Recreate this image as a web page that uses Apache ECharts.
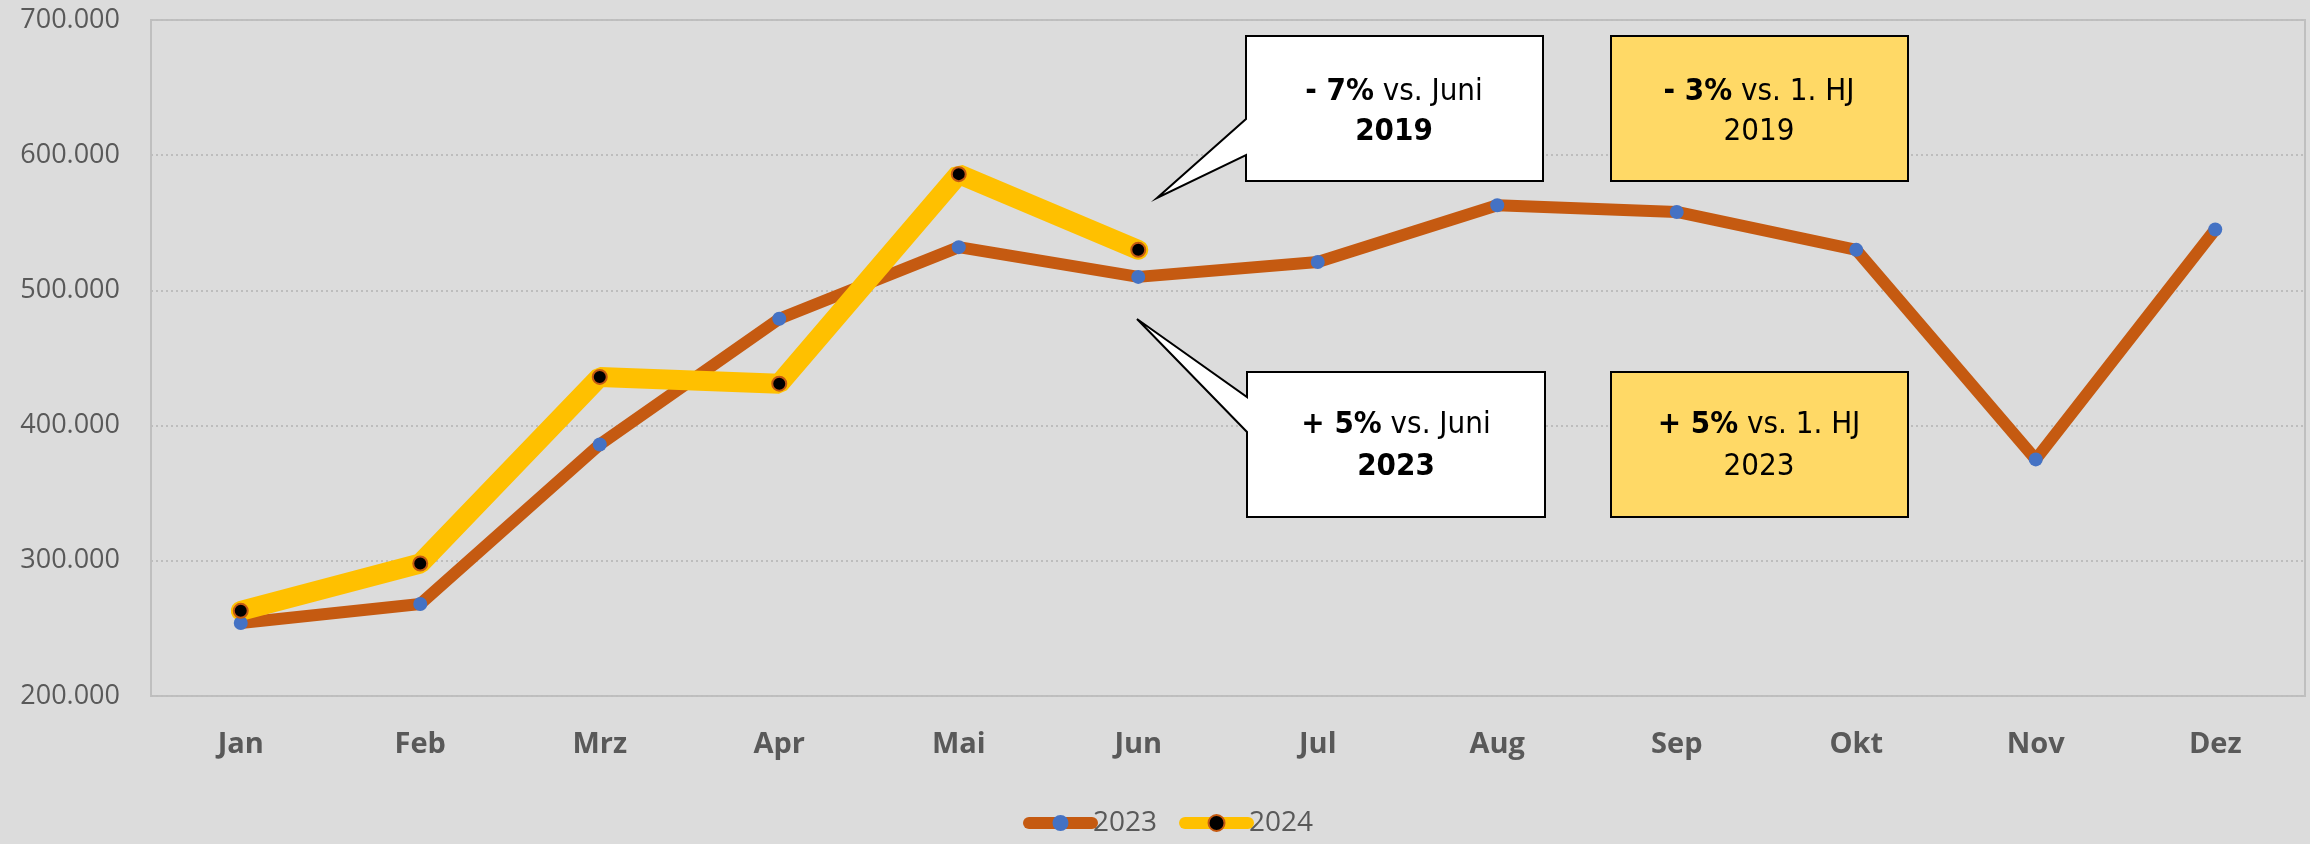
<!DOCTYPE html>
<html>
<head>
<meta charset="utf-8">
<script src="https://cdn.jsdelivr.net/npm/echarts@6/dist/echarts.min.js"></script>
<style>
  html, body { margin: 0; padding: 0; background: #dcdcdc; }
  #chart { width: 2310px; height: 844px; }
</style>
</head>
<body>
<div id="chart"></div>
<script>
// data
const months = ['Jan', 'Feb', 'Mrz', 'Apr', 'Mai', 'Jun', 'Jul', 'Aug', 'Sep', 'Okt', 'Nov', 'Dez'];
const values2023 = [254000, 268000, 386000, 479000, 532000, 510000, 521000, 563000, 558000, 530000, 375000, 545000];
const values2024 = [263000, 298000, 436000, 431000, 586000, 530000];
const yTicks = [200000, 300000, 400000, 500000, 600000, 700000];

const boxFont = '"DejaVu Sans Condensed", "Liberation Sans Narrow", "Open Sans", sans-serif';

const chart = echarts.init(document.getElementById('chart'));

function callout(points) {
  return {
    type: 'polygon',
    shape: { points: points },
    style: { fill: '#ffffff', stroke: '#000000', lineWidth: 2 },
    z: 100
  };
}

function box(x, y, w, h) {
  return {
    type: 'rect',
    shape: { x: x, y: y, width: w, height: h },
    style: { fill: '#ffd966', stroke: '#000000', lineWidth: 2 },
    z: 100
  };
}

function label(x, y, text, lh) {
  return {
    type: 'text',
    x: x,
    y: y,
    z: 101,
    style: {
      text: text,
      align: 'center',
      verticalAlign: 'middle',
      fill: '#000',
      font: '31px ' + boxFont,
      lineHeight: lh,
      rich: {
        n: { font: '31px ' + boxFont, fill: '#000', lineHeight: lh },
        b: { font: 'bold 31px ' + boxFont, fill: '#000', lineHeight: lh }
      }
    }
  };
}

const options = {
  backgroundColor: '#dcdcdc',
  animation: false,
  grid: {
    left: 151, right: 5, top: 20, bottom: 148,
    show: true, borderColor: '#bfbfbf', borderWidth: 2, backgroundColor: 'transparent'
  },
  legend: {
    bottom: 2,
    left: 1018,
    itemWidth: 63,
    itemHeight: 20,
    itemGap: 22,
    lineStyle: { width: 12, cap: 'round' },
    textStyle: { fontFamily: 'Open Sans', fontSize: 28, color: '#595959', padding: [0, 0, 0, -4] },
    data: ['2023', '2024']
  },
  xAxis: {
    type: 'category',
    data: months,
    boundaryGap: true,
    axisLine: { show: false },
    axisTick: { show: false },
    axisLabel: { margin: 34, fontFamily: 'Open Sans', fontWeight: 'bold', fontSize: 29, color: '#595959' }
  },
  yAxis: {
    type: 'value',
    min: yTicks[0],
    max: yTicks[yTicks.length - 1],
    interval: 100000,
    axisLine: { show: false },
    axisTick: { show: false },
    axisLabel: {
      margin: 31,
      fontFamily: 'Open Sans',
      fontSize: 27,
      color: '#595959',
      formatter: function (v) {
        return String(v).replace(/\B(?=(\d{3})+(?!\d))/g, '.');
      }
    },
    splitLine: { lineStyle: { color: '#bdbdbd', width: 2, type: [2, 3] } }
  },
  series: [
    {
      name: '2023',
      type: 'line',
      data: values2023,
      symbol: 'circle',
      symbolSize: 14,
      lineStyle: { color: '#c55a11', width: 12 },
      itemStyle: { color: '#4472c4' },
      color: '#c55a11'
    },
    {
      name: '2024',
      type: 'line',
      data: values2024,
      symbol: 'circle',
      symbolSize: 14,
      lineStyle: { color: '#ffc000', width: 20, cap: 'round' },
      itemStyle: { color: '#000000', borderColor: '#c55a11', borderWidth: 2 },
      color: '#ffc000'
    }
  ],
  graphic: [
    callout([[1246, 36], [1543, 36], [1543, 181], [1246, 181], [1246, 155], [1157, 198], [1246, 119]]),
    box(1611, 36, 297, 145),
    callout([[1247, 372], [1545, 372], [1545, 517], [1247, 517], [1247, 432], [1137, 319], [1247, 397]]),
    box(1611, 372, 297, 145),
    label(1394, 112, '{b|- 7%}{n| vs. Juni}\n{b|2019}', 40),
    label(1759, 112, '{b|- 3%}{n| vs. 1. HJ}\n{n|2019}', 40),
    label(1396, 446, '{b|+ 5%}{n| vs. Juni}\n{b|2023}', 42),
    label(1759, 446, '{b|+ 5%}{n| vs. 1. HJ}\n{n|2023}', 42)
  ]
};

chart.setOption(options);
</script>
</body>
</html>
